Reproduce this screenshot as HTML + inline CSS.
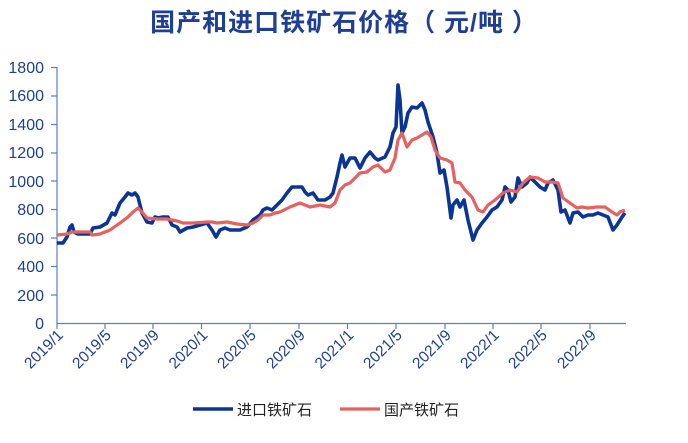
<!DOCTYPE html>
<html><head><meta charset="utf-8"><style>
body{margin:0;background:#fff;}
svg text{font-family:"Liberation Sans","Noto Sans CJK SC",sans-serif;}
</style></head><body>
<svg width="688" height="438" viewBox="0 0 688 438" xmlns="http://www.w3.org/2000/svg">
<text x="344" y="31" text-anchor="middle" font-size="25" font-weight="bold" fill="#1f3f94" letter-spacing="1">国产和进口铁矿石价格（ 元/吨 ）</text>
<g font-size="16" fill="#1f3f94" text-anchor="end">
<text x="44" y="329">0</text><text x="44" y="301">200</text><text x="44" y="272">400</text>
<text x="44" y="244">600</text><text x="44" y="215">800</text><text x="44" y="187">1000</text>
<text x="44" y="158">1200</text><text x="44" y="130">1400</text><text x="44" y="101">1600</text>
<text x="44" y="73">1800</text>
</g>
<g stroke="#5b7fc7" stroke-width="1.2">
<line x1="57" y1="67" x2="57" y2="324"/>
<line x1="57" y1="323.5" x2="626" y2="323.5"/>
<line x1="51" y1="67.5" x2="57" y2="67.5"/><line x1="51" y1="96" x2="57" y2="96"/><line x1="51" y1="124.5" x2="57" y2="124.5"/><line x1="51" y1="153" x2="57" y2="153"/><line x1="51" y1="181" x2="57" y2="181"/><line x1="51" y1="209.5" x2="57" y2="209.5"/><line x1="51" y1="238" x2="57" y2="238"/><line x1="51" y1="266.5" x2="57" y2="266.5"/><line x1="51" y1="295" x2="57" y2="295"/>
<line x1="57" y1="323" x2="57" y2="329"/><line x1="105" y1="323" x2="105" y2="329"/><line x1="153" y1="323" x2="153" y2="329"/><line x1="201.5" y1="323" x2="201.5" y2="329"/><line x1="250" y1="323" x2="250" y2="329"/><line x1="299" y1="323" x2="299" y2="329"/><line x1="347.5" y1="323" x2="347.5" y2="329"/><line x1="396" y1="323" x2="396" y2="329"/><line x1="445" y1="323" x2="445" y2="329"/><line x1="493" y1="323" x2="493" y2="329"/><line x1="541" y1="323" x2="541" y2="329"/><line x1="590" y1="323" x2="590" y2="329"/>
</g>
<g font-size="15.5" fill="#1f3f94" text-anchor="end">
<text transform="translate(64,336) rotate(-45)">2019/1</text>
<text transform="translate(112,336) rotate(-45)">2019/5</text>
<text transform="translate(160,336) rotate(-45)">2019/9</text>
<text transform="translate(208.5,336) rotate(-45)">2020/1</text>
<text transform="translate(257,336) rotate(-45)">2020/5</text>
<text transform="translate(306,336) rotate(-45)">2020/9</text>
<text transform="translate(354.5,336) rotate(-45)">2021/1</text>
<text transform="translate(403,336) rotate(-45)">2021/5</text>
<text transform="translate(452,336) rotate(-45)">2021/9</text>
<text transform="translate(500,336) rotate(-45)">2022/1</text>
<text transform="translate(548,336) rotate(-45)">2022/5</text>
<text transform="translate(597,336) rotate(-45)">2022/9</text>
</g>
<polyline fill="none" stroke="#0a3595" stroke-width="3.6" stroke-linejoin="round" points="57,243 63,243 67,237 70,227 72,225 74,232 78,234 85,234 90,234 93,228 100,227 107,223 112,213 115,215 120,203 125,197 128,193 132,195 135,193 138,197 142,213 147,222 152,223 155,217 158,218 163,217 168,217 172,225 177,227 180,232 187,228 193,227 200,225 207,223 212,230 216,237 220,230 225,228 230,230 235,230 240,230 247,227 253,220 260,215 263,210 267,208 272,210 277,205 282,200 287,193 292,187 297,187 302,187 305,192 308,195 313,193 318,200 325,200 330,197 333,193 337,177 340,163 342,155 345,167 350,158 355,158 360,168 365,158 370,152 375,158 378,160 385,157 390,147 393,133 396,127 398,85 400,100 402,133 405,127 408,113 412,107 417,108 422,103 425,110 428,122 433,137 437,153 440,173 444,170 447,187 451,218 453,205 457,200 460,207 464,200 468,220 473,240 477,230 482,223 487,217 492,210 497,207 502,200 505,187 508,190 511,202 515,197 518,178 522,187 527,183 530,177 535,182 540,187 545,190 548,183 553,180 558,190 561,212 565,210 570,223 573,213 578,212 583,217 588,215 593,215 598,213 603,215 608,217 613,230 617,225 622,217 625,213"/>
<polyline fill="none" stroke="#e8615f" stroke-width="3.2" stroke-linejoin="round" points="57,235 67,234 72,232 80,232 90,232 92,235 100,234 110,230 120,223 128,217 133,212 138,208 142,212 147,218 157,219 167,219 177,221 183,223 193,223 207,222 212,222 217,223 227,222 237,224 247,225 253,223 258,220 263,215 270,215 275,213 280,212 290,207 300,203 310,207 320,205 330,207 335,203 340,190 345,185 350,183 360,173 367,172 373,167 378,165 385,172 390,170 395,158 398,140 402,133 407,147 412,140 417,138 422,135 427,132 431,137 435,150 440,158 447,160 452,163 455,182 460,183 465,190 472,197 478,210 483,212 488,205 495,200 503,193 510,190 517,192 523,183 530,177 538,178 545,182 552,182 558,183 563,198 570,203 577,208 582,207 588,208 597,207 605,207 612,212 617,215 620,212 625,210"/>
<line x1="193" y1="409" x2="233" y2="409" stroke="#0a3595" stroke-width="3.6"/>
<text x="237" y="415" font-size="15" fill="#222">进口铁矿石</text>
<line x1="340" y1="409" x2="380" y2="409" stroke="#e8615f" stroke-width="3.2"/>
<text x="384" y="415" font-size="15" fill="#222">国产铁矿石</text>
</svg>
</body></html>
